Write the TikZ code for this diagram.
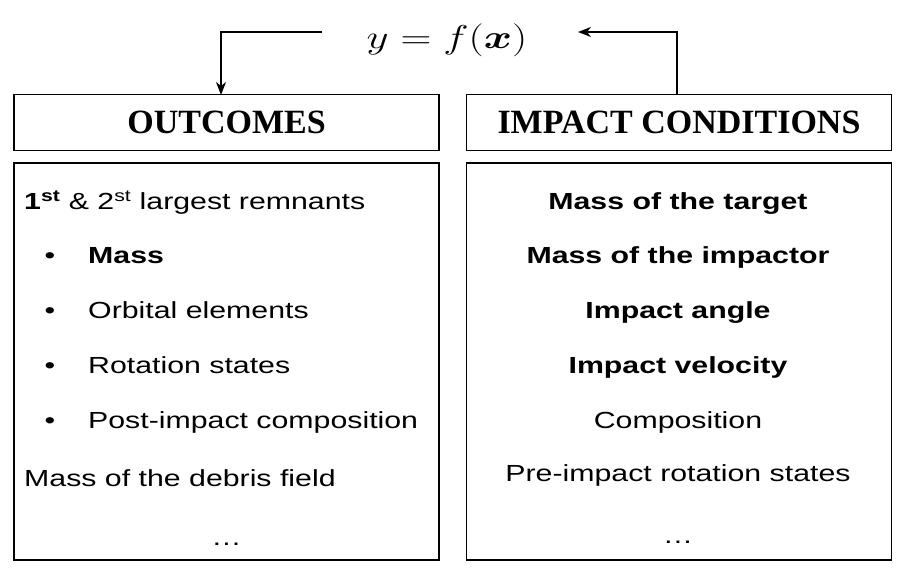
\RequirePackage{fix-cm}
\documentclass[tikz,border=0pt]{standalone}
\usepackage{fontspec}
\usepackage{amsmath,bm,graphicx}
\usetikzlibrary{arrows.meta}
\newfontfamily\bodyfont[FakeStretch=1.3]{Liberation Sans}
\newfontfamily\headfont{Liberation Serif}
\tikzset{
  hbox/.style={draw, line width=1.6pt, minimum width=425pt, minimum height=56pt, inner sep=0pt},
  htxt/.style={inner sep=0pt, font=\headfont\fontsize{34}{40}\selectfont\bfseries},
  cbox/.style={draw, line width=1.6pt, minimum width=425pt, minimum height=397pt, inner sep=0pt},
  txt/.style={inner sep=0pt, font=\bodyfont\fontsize{23.3}{28}\selectfont},
  btxt/.style={txt, font=\bodyfont\fontsize{23.3}{28}\selectfont\bfseries},
  conn/.style={line width=1.3pt, -{Stealth[length=13pt,width=10pt,inset=4pt]}}
}
\begin{document}
\begin{tikzpicture}[x=1pt,y=-1pt]
\useasboundingbox (0,0) rectangle (908,576);
% formula
\node[inner sep=0pt, anchor=base] (f) at (447,48)
  {\fontsize{33}{40}\selectfont\scalebox{1.3}[1]{$y = f(\bm{x})$}};
% headers
\node[hbox] (outc) at (226.5,122.5) {};
\node[hbox] (imp) at (679,122.5) {};
\node[htxt, anchor=base] (outct) at (226.5,133.5) {OUTCOMES};
\node[htxt, anchor=base] (impt) at (679,133.5) {IMPACT CONDITIONS};
% content boxes
\node[cbox] (lbox) at (226.5,361.5) {};
\node[cbox] (rbox) at (679,361.5) {};
% arrows
\coordinate (fl) at (322,32);
\coordinate (fr) at (578,32);
\coordinate (ol) at (221,95);
\coordinate (ir) at (677,95);
\draw[conn] (fl) -| (ol);
\draw[conn] (ir) |- (fr);
% left texts
\node[txt, anchor=base west] (l1) at (24,209.5) {{\bfseries 1\textsuperscript{st}} \& 2\textsuperscript{st} largest remnants};
\node[txt, anchor=base] (b1) at (50,263) {•};
\node[btxt, anchor=base west] (l2) at (88,263) {Mass};
\node[txt, anchor=base] (b2) at (50,318) {•};
\node[txt, anchor=base west] (l3) at (88,318) {Orbital elements};
\node[txt, anchor=base] (b3) at (50,373) {•};
\node[txt, anchor=base west] (l4) at (88,373) {Rotation states};
\node[txt, anchor=base] (b4) at (50,428) {•};
\node[txt, anchor=base west] (l5) at (88,428) {Post-impact composition};
\node[txt, anchor=base west] (l6) at (24,486) {Mass of the debris field};
\node[txt, anchor=base] (l7) at (226.5,545) {…};
% right texts
\node[btxt, anchor=base] (r1) at (678,209.5) {Mass of the target};
\node[btxt, anchor=base] (r2) at (678,263) {Mass of the impactor};
\node[btxt, anchor=base] (r3) at (678,318) {Impact angle};
\node[btxt, anchor=base] (r4) at (678,373) {Impact velocity};
\node[txt, anchor=base] (r5) at (678,428) {Composition};
\node[txt, anchor=base] (r6) at (678,481) {Pre-impact rotation states};
\node[txt, anchor=base] (r7) at (678,543) {…};
\end{tikzpicture}
\end{document}
